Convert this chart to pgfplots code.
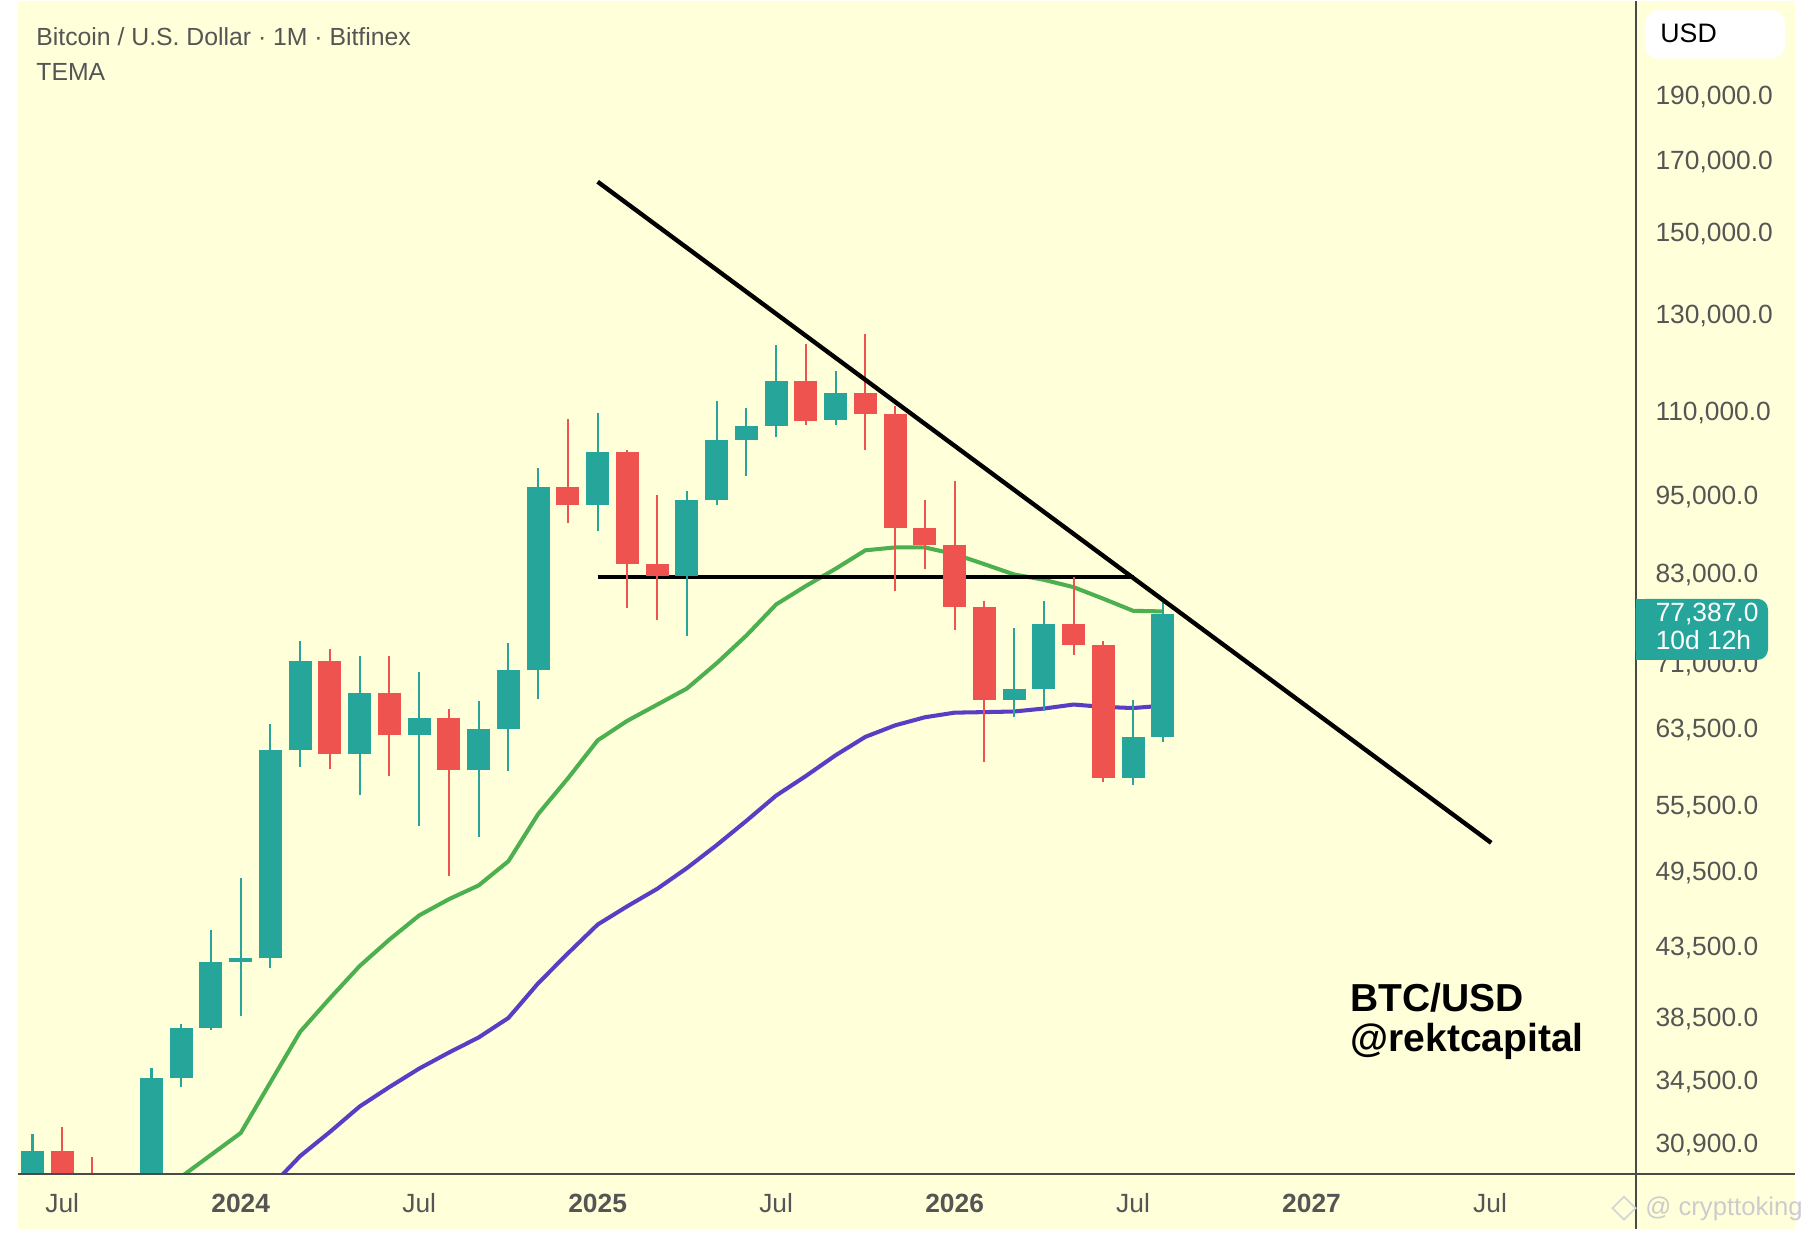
\documentclass[border=0pt]{standalone}
\usepackage{pgfplots}
\pgfplotsset{compat=1.18}
\usepackage{pgfplotstable}
\usepackage{fontspec}
\setmainfont{Liberation Sans}

\definecolor{bgy}{HTML}{FFFFDA}
\definecolor{upc}{HTML}{26A69A}
\definecolor{dnc}{HTML}{EF5350}
\definecolor{temag}{HTML}{4CAF50}
\definecolor{temap}{HTML}{5B3CC4}
\definecolor{axc}{HTML}{4A4A4A}
\definecolor{txc}{HTML}{555555}

% month index: 12 = Jan 2024
\pgfplotstableread{
m o h l c
5 27220 31390 24800 30470
8 25940 27480 24900 26960
9 26960 35200 26550 34640
10 34640 38000 34100 37720
11 37720 44700 37600 42280
12 42280 48970 38550 42580
13 42580 63900 41880 61130
14 61130 73800 59300 71290
16 60640 71950 56550 67480
18 62680 70000 53550 64620
20 58970 66500 52550 63330
21 63330 73600 58900 70220
22 70220 99650 66800 96400
24 93430 109600 89260 102400
27 82550 95750 74450 94200
28 94200 111900 93350 104600
29 104600 110550 98250 107150
30 107150 123200 105150 115750
32 108250 117900 107300 113500
38 66650 75500 64700 67900
39 67900 79100 65400 76000
42 58200 66600 57500 62550
43 62550 79200 62000 77387
}\upT

\pgfplotstableread{
m o h l c
6 30470 31800 28860 29230
7 29230 30200 25330 25940
15 71290 72800 59150 60640
17 67480 71980 58400 62680
19 64620 65650 49100 58970
23 96400 108350 90500 93430
25 102400 102750 78200 84350
26 84350 95000 76600 82550
31 115750 123500 107300 108000
33 113500 125600 102800 109300
34 109300 110900 80500 89850
35 89850 94200 83600 87200
36 87200 97400 75300 78300
37 78300 79100 59800 66650
40 76000 82400 72100 73300
41 73300 73800 57800 58200
}\dnT

\pgfplotstableread{
m v
9 28070
10 29160
11 30290
12 31460
13 34350
14 37500
15 39740
16 42020
17 43990
18 45870
19 47180
20 48320
21 50390
22 54680
23 58170
24 62130
25 64280
26 66100
27 67970
28 71020
29 74510
30 78640
31 81190
32 83650
33 86370
34 86800
35 86800
36 85800
37 84320
38 82820
39 82070
40 81020
41 79420
42 77780
43 77700
}\greenT

\pgfplotstableread{
m v
13 28640
14 30230
15 31520
16 32940
17 34070
18 35180
19 36170
20 37130
21 38410
22 40780
23 42950
24 45150
25 46610
26 48030
27 49790
28 51810
29 54040
30 56460
31 58410
32 60550
33 62510
34 63770
35 64670
36 65190
37 65250
38 65320
39 65650
40 66110
41 65840
42 65710
43 65980
}\purpleT

\newcommand\drawcandles[3]{%
  \pgfplotstablegetrowsof{#1}%
  \pgfmathtruncatemacro\lastrow{\pgfplotsretval-1}%
  \pgfplotsforeachungrouped \rr in {0,...,\lastrow}{%
    \pgfplotstablegetelem{\rr}{m}\of#1\let\candM\pgfplotsretval
    \pgfplotstablegetelem{\rr}{o}\of#1\let\candO\pgfplotsretval
    \pgfplotstablegetelem{\rr}{h}\of#1\let\candH\pgfplotsretval
    \pgfplotstablegetelem{\rr}{l}\of#1\let\candL\pgfplotsretval
    \pgfplotstablegetelem{\rr}{c}\of#1\let\candC\pgfplotsretval
    \edef\doit{%
      \noexpand\addplot[draw=#2, line width=0.6pt, forget plot] coordinates {(\candM,\candL) (\candM,\candH)};
      \noexpand\addplot[draw=#3, line width=0.2304cm, line cap=butt, forget plot] coordinates {(\candM,\candO) (\candM,\candC)};
    }\doit
  }%
}

\newcommand\tickfont{\fontsize{7.5pt}{8pt}\selectfont}

\begin{document}
\begin{tikzpicture}
\begin{scope}[x=0.011518cm, y=-0.011518cm]
  \path[use as bounding box] (0,0) rectangle (1568,1069);
  \fill[white] (0,0) rectangle (1568,1069);
  \fill[bgy] (16,0) rectangle (1558,1066);
\end{scope}

\begin{axis}[
  at={(0.18429cm,-11.7253cm)}, anchor=south west,
  width=16.1713cm, height=11.7253cm, scale only axis,
  xmin=4.528, xmax=58.883,
  ymode=log, ymin=29338, ymax=223780,
  axis line style={draw=none},
  major tick length=0pt,
  xtick={6,12,18,24,30,36,42,48,54},
  xticklabels={Jul,\textbf{2024},Jul,\textbf{2025},Jul,\textbf{2026},Jul,\textbf{2027},Jul},
  xticklabel style={anchor=base, yshift=-0.39cm, inner sep=0pt, font=\tickfont, text=txc},
  ytick={30900,34500,38500,43500,49500,55500,63500,71000,83000,95000,110000,130000,150000,170000,190000},
  yticklabels={{30,900.0},{34,500.0},{38,500.0},{43,500.0},{49,500.0},{55,500.0},{63,500.0},{71,000.0},{83,000.0},{95,000.0},{110,000.0},{130,000.0},{150,000.0},{170,000.0},{190,000.0}},
  ytick pos=right,
  yticklabel pos=right,
  yticklabel style={anchor=base west, xshift=0.196cm, yshift=-2.7pt, inner sep=0pt, font=\tickfont, text=txc},
  clip=true,
]
  % TEMA lines
  \addplot[temag, line width=1.15pt, forget plot] table[x=m, y=v] {\greenT};
  \addplot[temap, line width=1.15pt, forget plot] table[x=m, y=v] {\purpleT};
  % horizontal level
  \addplot[black, line width=1.15pt, forget plot] coordinates {(24,82400) (42.04,82400)};
  % candles
  \drawcandles{\upT}{upc}{upc}
  \drawcandles{\dnT}{dnc}{dnc}
  % trendline
  \addplot[black, line width=1.25pt, forget plot] coordinates {(24,163600) (54.04,52020)};
\end{axis}

\begin{scope}[x=0.011518cm, y=-0.011518cm]
  % axis lines
  \draw[axc, line width=0.6pt] (1420,0) -- (1420,1066);
  \draw[axc, line width=0.6pt] (16,1018) -- (1558,1018);
  % titles
  \node[anchor=base west, inner sep=0pt, text=txc, font=\fontsize{7.05pt}{8pt}\selectfont] at (31,39) {Bitcoin / U.S. Dollar · 1M · Bitfinex};
  \node[anchor=base west, inner sep=0pt, text=txc, font=\fontsize{7.05pt}{8pt}\selectfont] at (31,69) {TEMA};
  % USD box
  \fill[white, rounded corners=4] (1428,8) rectangle (1550,50);
  \node[anchor=base west, inner sep=0pt, text=black, font=\fontsize{7.6pt}{8pt}\selectfont] at (1441,36) {USD};
  % last price box
  \fill[upc, rounded corners=3] (1420,519) rectangle (1535,572);
  \fill[upc] (1420,519) rectangle (1430,572);
  \node[anchor=base west, inner sep=0pt, text=white, font=\tickfont] at (1437,539) {77,387.0};
  \node[anchor=base west, inner sep=0pt, text=white, font=\tickfont] at (1437,563) {10d 12h};
  % signature
  \node[anchor=base west, inner sep=0pt, text=black, font=\bfseries\fontsize{11.1pt}{11pt}\selectfont] at (1172,877) {BTC/USD};
  \node[anchor=base west, inner sep=0pt, text=black, font=\bfseries\fontsize{11.1pt}{11pt}\selectfont] at (1172,912) {@rektcapital};
  % watermark
  \node[anchor=base west, inner sep=0pt, text=black!20, font=\fontsize{7.3pt}{8pt}\selectfont] at (1428,1054) {@ crypttoking};
  \draw[black!16, line width=0.5pt] (1400,1048) -- (1410,1038) -- (1420,1048) -- (1410,1058) -- cycle;
\end{scope}
\end{tikzpicture}
\end{document}
